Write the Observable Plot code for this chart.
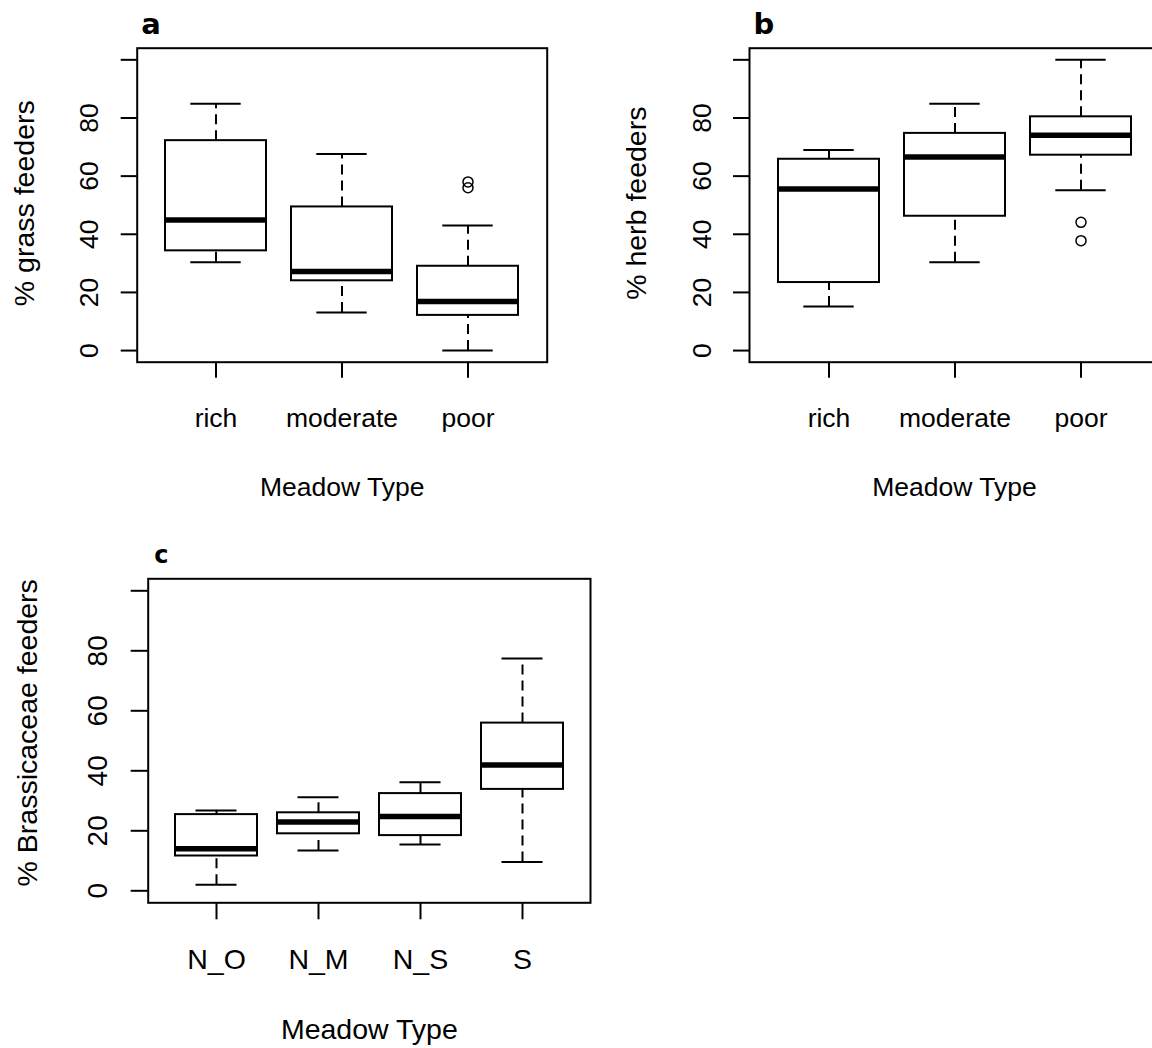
<!DOCTYPE html>
<html>
<head>
<meta charset="utf-8">
<script src="https://cdn.jsdelivr.net/npm/d3@7"></script>
<script src="https://cdn.jsdelivr.net/npm/@observablehq/plot@0.6"></script>
<style>
  html, body { margin: 0; padding: 0; background: #fff; overflow: hidden; }
  #wrap { position: relative; width: 1152px; height: 1048px; overflow: hidden; background: #fff; }
  #wrap svg { position: absolute; }
</style>
</head>
<body>
<div id="wrap"></div>
<script>
// ---- Panel a: % grass feeders ----
const aCategories = ["rich", "moderate", "poor"];
const aMin    = [30.4, 13.1, 0.0];
const aQ1     = [34.3, 24.0, 12.1];
const aMedian = [44.9, 27.2, 16.9];
const aQ3     = [72.2, 49.4, 29.0];
const aMax    = [84.9, 67.6, 43.0];
const aOutlierCategory = ["poor", "poor"];
const aOutlierValue    = [56.0, 58.0];

// ---- Panel b: % herb feeders ----
const bCategories = ["rich", "moderate", "poor"];
const bMin    = [15.2, 30.4, 55.1];
const bQ1     = [23.4, 46.2, 67.2];
const bMedian = [55.6, 66.6, 74.1];
const bQ3     = [65.8, 74.7, 80.4];
const bMax    = [69.0, 84.9, 100.0];
const bOutlierCategory = ["poor", "poor"];
const bOutlierValue    = [44.1, 37.8];

// ---- Panel c: % Brassicaceae feeders ----
const cCategories = ["N_O", "N_M", "N_S", "S"];
const cMin    = [2.0, 13.4, 15.4, 9.6];
const cQ1     = [11.6, 19.0, 18.4, 33.8];
const cMedian = [14.0, 22.9, 24.8, 41.9];
const cQ3     = [25.4, 26.0, 32.4, 55.9];
const cMax    = [26.8, 31.2, 36.2, 77.4];
const cOutlierCategory = [];
const cOutlierValue    = [];

const yTicks = [0, 20, 40, 60, 80, 100];
const xTitle = "Meadow Type";

function panel(cfg) {
  const n = cfg.cats.length;
  const rows = cfg.cats.map((c, i) => ({cat: c, min: cfg.min[i], q1: cfg.q1[i], med: cfg.med[i], q3: cfg.q3[i], max: cfg.max[i]}));
  const outs = cfg.outCat.map((c, i) => ({cat: c, value: cfg.outVal[i]}));
  const innerW = cfg.width - cfg.ml - cfg.mr;
  const step = innerW / (n - 0.2 + 2 * cfg.po);
  const capInset = step * 0.8 / 4;
  const dash = {stroke: "black", strokeWidth: 2, strokeDasharray: "10,6"};
  const fs = cfg.fs;
  const svg = Plot.plot({
    width: cfg.width,
    height: cfg.height,
    marginLeft: cfg.ml, marginRight: cfg.mr, marginTop: cfg.mt, marginBottom: cfg.mb,
    style: {fontFamily: "'Liberation Sans', Arial, sans-serif", color: "black", background: "white", overflow: "visible"},
    x: {type: "band", domain: cfg.cats, paddingInner: 0.2, paddingOuter: cfg.po},
    y: {domain: [-4, 104]},
    marks: [
      Plot.ruleX(rows, {x: "cat", y1: "q3", y2: "max", ...dash}),
      Plot.ruleX(rows, {x: "cat", y1: "min", y2: "q1", ...dash}),
      Plot.tickY(rows, {x: "cat", y: "max", insetLeft: capInset, insetRight: capInset, stroke: "black", strokeWidth: 2}),
      Plot.tickY(rows, {x: "cat", y: "min", insetLeft: capInset, insetRight: capInset, stroke: "black", strokeWidth: 2}),
      Plot.barY(rows, {x: "cat", y1: "q1", y2: "q3", fill: "white", stroke: "black", strokeWidth: 2}),
      Plot.tickY(rows, {x: "cat", y: "med", stroke: "black", strokeWidth: 5.5}),
      Plot.dot(outs, {x: "cat", y: "value", r: 5, stroke: "black", strokeWidth: 1.5, fill: "none"}),
      Plot.frame({stroke: "black", strokeWidth: 2}),
      Plot.axisY({ticks: yTicks, tickFormat: d => d === 100 ? "" : String(d), tickSize: cfg.ts, tickPadding: cfg.ytp,
                  tickRotate: -90, strokeWidth: 2, label: null, fontSize: fs.ytick}),
      Plot.axisX({tickSize: cfg.ts, tickPadding: cfg.xtp, strokeWidth: 2, label: null, fontSize: fs.xtick}),
      Plot.text([cfg.ylabel], {frameAnchor: "left", rotate: -90, dx: cfg.ylabDx, dy: cfg.ylabDy, lineAnchor: "bottom", textAnchor: "middle", fontSize: fs.ytitle, fill: "black"}),
      Plot.text([xTitle], {frameAnchor: "bottom", dy: cfg.xlabDy, lineAnchor: "bottom", textAnchor: "middle", fontSize: fs.xtitle, fill: "black"}),
      Plot.text([cfg.letter], {frameAnchor: "top-left", dx: cfg.letDx, dy: cfg.letDy, lineAnchor: "bottom", textAnchor: "start",
                               fontWeight: "bold", fontFamily: "'DejaVu Sans', Verdana, sans-serif", fontSize: fs.letter, fill: "black"})
    ]
  });
  svg.style.left = cfg.left + "px";
  svg.style.top = cfg.top + "px";
  return svg;
}

const wrap = document.getElementById("wrap");

const fsTop = {ytick: 26.5, xtick: 26.5, ytitle: 28.5, xtitle: 26.5, letter: 29};
const fsC = {ytick: 28, xtick: 28.5, ytitle: 28.5, xtitle: 28.5, letter: 24};

wrap.appendChild(panel({
  cats: aCategories, min: aMin, q1: aQ1, med: aMedian, q3: aQ3, max: aMax,
  outCat: aOutlierCategory, outVal: aOutlierValue,
  left: 0, top: 0, width: 576, height: 524,
  ml: 136.7, mr: 29.3, mt: 47.7, mb: 162.3, po: 0.22,
  ts: 16, ytp: 23, xtp: 29.5, ylabDx: -103.4, ylabDy: -2, xlabDy: 133.3,
  ylabel: "% grass feeders", letter: "a", letDx: 4, letDy: -14.4, fs: fsTop
}));

wrap.appendChild(panel({
  cats: bCategories, min: bMin, q1: bQ1, med: bMedian, q3: bQ3, max: bMax,
  outCat: bOutlierCategory, outVal: bOutlierValue,
  left: 576, top: 0, width: 600, height: 524,
  ml: 173, mr: 17, mt: 47.7, mb: 162.3, po: 0.22,
  ts: 16, ytp: 23, xtp: 29.5, ylabDx: -103.4, ylabDy: -2, xlabDy: 133.3,
  ylabel: "% herb feeders", letter: "b", letDx: 4, letDy: -14.4, fs: fsTop
}));

wrap.appendChild(panel({
  cats: cCategories, min: cMin, q1: cQ1, med: cMedian, q3: cQ3, max: cMax,
  outCat: cOutlierCategory, outVal: cOutlierValue,
  left: 0, top: 524, width: 620, height: 524,
  ml: 147.7, mr: 30, mt: 54.3, mb: 145.7, po: 0.26,
  ts: 17, ytp: 24, xtp: 28.8, ylabDx: -111.7, ylabDy: -8, xlabDy: 136,
  ylabel: "% Brassicaceae feeders", letter: "c", letDx: 6, letDy: -16.3, fs: fsC
}));
</script>
</body>
</html>
